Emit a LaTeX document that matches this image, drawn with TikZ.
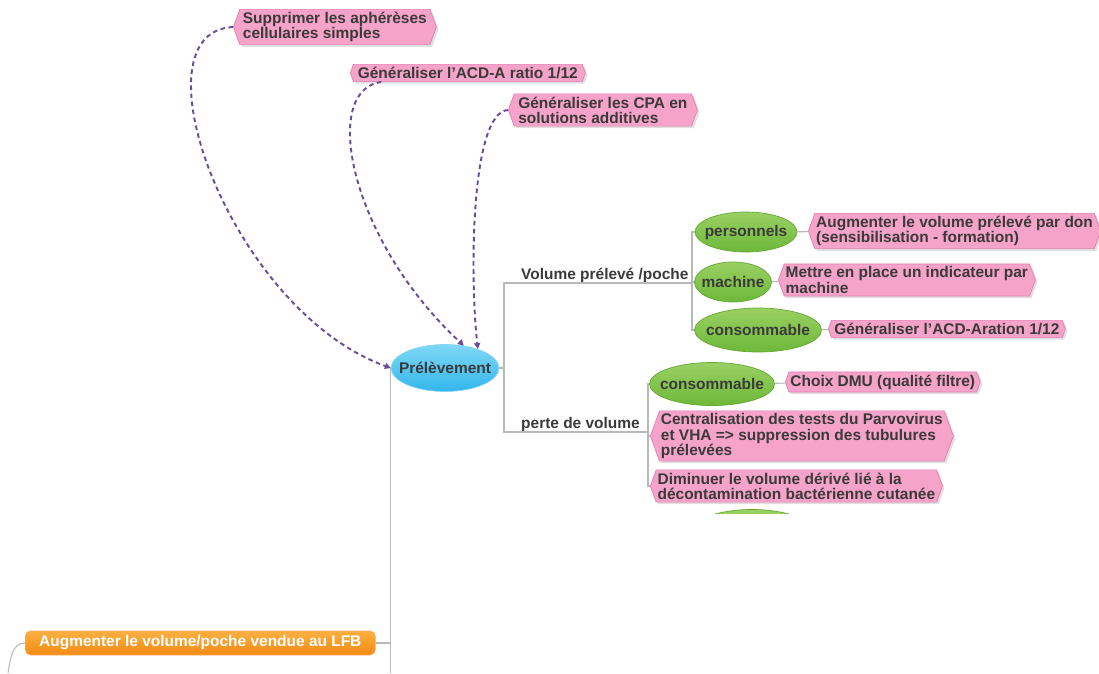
\documentclass[tikz,border=0pt]{standalone}
\usepackage{fontspec}
\setmainfont{Liberation Sans}
\usepackage{xcolor}
\usetikzlibrary{arrows.meta,shapes.geometric,shapes.symbols,shadows}
\definecolor{txt}{HTML}{3A3A3A}
\definecolor{pinkfill}{HTML}{F5A3C8}
\definecolor{pinkline}{HTML}{E77DB2}
\definecolor{greentop}{HTML}{9BD063}
\definecolor{greenbot}{HTML}{6DB83A}
\definecolor{bluetop}{HTML}{7ED8F6}
\definecolor{bluebot}{HTML}{33B6EA}
\definecolor{orangetop}{HTML}{FBB040}
\definecolor{orangebot}{HTML}{F48A14}
\definecolor{purp}{HTML}{6A4C9F}

\begin{document}
\begin{tikzpicture}[x=0.02cm,y=-0.02cm,
  every node/.style={font=\fontsize{8.8}{8.6}\selectfont\bfseries,text=txt},
  idea/.style={signal,signal to=east and west,signal pointer angle=140,draw=pinkline,fill=pinkfill,
    inner xsep=0.8pt,inner ysep=1.6pt,align=left,anchor=west,
    drop shadow={shadow xshift=1.2pt,shadow yshift=-1.2pt,opacity=0.25}},
  leaf/.style={ellipse,draw=greenbot!80!black!40!greenbot,top color=greentop,bottom color=greenbot,
    inner xsep=-4.5pt,inner ysep=0pt},
  br/.style={gray!55,line width=0.6pt},
  lnk/.style={-{Triangle[length=1.2mm,width=1.2mm]},dash pattern=on 2.6pt off 2pt,purp,line width=1.1pt}]
 \useasboundingbox (0,0) rectangle (1099,673);
 \node[ellipse,top color=bluetop,bottom color=bluebot,draw=bluebot!60,inner xsep=-4.5pt,inner ysep=0pt,
   minimum width=2.1cm,minimum height=0.94cm] (prel) at (445,368) {Prélèvement};
 \node[idea,minimum width=4.06cm] (supp) at (233,27) {Supprimer les aphérèses\\cellulaires simples};
 \node[idea,minimum width=4.7cm] (acda) at (350,73) {Généraliser l'ACD-A ratio 1/12};
 \node[idea,minimum width=3.78cm] (cpa) at (508,110) {Généraliser les CPA en\\solutions additives};
 \node[anchor=base west] (vol) at (515,279) {Volume prélevé /poche};
 \node[anchor=base west] (perte) at (515,428) {perte de volume};
 \coordinate (jA) at (504,368);
 \coordinate (jB) at (692,283);
 \coordinate (jC) at (648,432);
 \node[leaf,minimum width=2.04cm,minimum height=0.8cm] (pers) at (746,232) {personnels};
 \node[leaf,minimum width=1.54cm,minimum height=0.8cm] (mach) at (733,282) {machine};
 \node[leaf,minimum width=2.54cm,minimum height=0.88cm] (consA) at (758,330) {consommable};
 \node[leaf,minimum width=2.5cm,minimum height=0.86cm] (consB) at (712,384) {consommable};
 \node[idea,minimum width=5.78cm] (aug) at (808,231) {Augmenter le volume prélevé par don\\(sensibilisation - formation)};
 \node[idea,minimum width=5.14cm] (ind) at (778,280) {Mettre en place un indicateur par\\machine};
 \node[idea,minimum width=4.74cm] (acdb) at (828,329) {Généraliser l'ACD-Aration 1/12};
 \node[idea,minimum width=3.84cm] (dmu) at (785,382) {Choix DMU (qualité filtre)};
 \node[idea,minimum width=5.9cm] (centr) at (650,436) {Centralisation des tests du Parvovirus\\et VHA => suppression des tubulures\\prélevées};
 \node[idea,minimum width=5.76cm] (dimi) at (650,486) {Diminuer le volume dérivé lié à la\\décontamination bactérienne cutanée};
 \begin{scope}
  \clip (700,505) rectangle (800,513);
  \node[leaf,minimum width=2.4cm,minimum height=0.86cm] (consC) at (752,531) {};
 \end{scope}
 \node[rounded corners=3pt,top color=orangetop,bottom color=orangebot,draw=orangebot!70,text=white,
   minimum width=7cm,minimum height=0.48cm,inner sep=2pt,anchor=west] (lfb) at (25,643) {Augmenter le volume/poche vendue au LFB};
 \coordinate (cut) at (8,673);
 \coordinate (bot) at (391,673);
 \draw[br] (prel.east) -- (jA) |- (jB) (jA) |- (jC);
 \foreach \a in {pers,mach,consA} \draw[br] (jB) |- (\a.west);
 \foreach \a in {consB,centr,dimi} \draw[br] (jC) |- (\a.west);
 \foreach \a/\b in {pers/aug,mach/ind,consA/acdb,consB/dmu} \draw[br] (\a) -- (\b);
 \draw[br] (prel.west) -- (prel.west |- bot);
 \draw[br] (lfb.east) -- (lfb.east -| prel.west);
 \draw[br] (lfb.west) to[out=180,in=80] (cut);
 \draw[lnk] (supp.west) .. controls (130,32) and (230,310) .. (prel.west);
 \draw[lnk] (acda.south west) ++(28,0) .. controls (320,90) and (350,240) .. (prel.50);
 \draw[lnk] (cpa.west) .. controls (470,112) and (470,280) .. (prel.30);
\end{tikzpicture}
\end{document}
